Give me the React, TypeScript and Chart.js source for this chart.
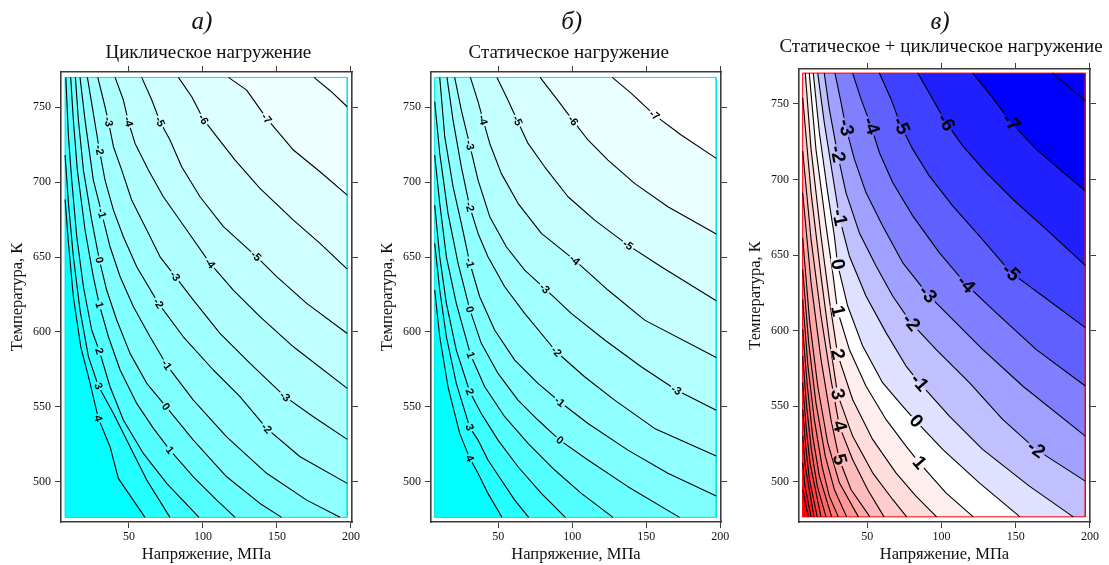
import React, { useEffect, useRef } from 'react';
import { Chart, registerables } from 'chart.js';

Chart.register(...registerables);

// ---------------- shared axis ticks ----------------
const X_TICKS = [50, 100, 150, 200];
const Y_TICKS = [500, 550, 600, 650, 700, 750];

// ---------------- panel а) cyclic loading ----------------
const LEVELS_A = [-8, -7, -6, -5, -4, -3, -2, -1, 0, 1, 2, 3, 4];
const LINES_A: number[][][] = [
  [[175, 770], [186, 761.1], [197.5, 750.4]],
  [[117.2, 770], [129.5, 761.5], [143.0, 742.6], [161.1, 721.5], [179.1, 707.0], [197.5, 691.4]],
  [[83.4, 770], [92.4, 757.1], [100.3, 742.0], [109.3, 730.4], [121.7, 714.8], [138.5, 695.9], [161.1, 674.7], [179.1, 659.2], [197.5, 642.0]],
  [[58.6, 770], [65.4, 754.9], [71.0, 740.4], [77.7, 728.2], [85.6, 710.3], [98.0, 690.3], [113.8, 670.3], [135.8, 650.7], [149.8, 636.9], [170.1, 619.1], [197.5, 599.0]],
  [[40.6, 770], [46.2, 754.9], [49.6, 740.4], [54.1, 725.9], [63.1, 708.1], [73.2, 690.3], [89.0, 668.1], [104.8, 645.8], [120.5, 628.0], [138.5, 610.2], [161.1, 590.1], [197.5, 562.3]],
  [[28.9, 770], [32.7, 754.9], [36.1, 740.4], [39.5, 723.7], [45.1, 708.1], [51.8, 688.1], [62.0, 668.1], [71.0, 650.2], [81.1, 637.3], [93.5, 621.3], [111.5, 599.0], [131.8, 579.0], [155.4, 556.8], [174.6, 543.4], [197.5, 528.3]],
  [[21.9, 770], [24.8, 752.6], [30.0, 721.5], [33.8, 701.4], [39.5, 681.4], [46.2, 663.6], [55.2, 643.6], [69.9, 619.1], [86.7, 596.8], [107.0, 574.6], [125.0, 556.8], [143.0, 535.6], [165.6, 516.7], [197.5, 498.9]],
  [[16.9, 770], [20.3, 741.5], [25.9, 701.4], [31.6, 679.2], [37.2, 656.9], [44.0, 636.9], [53.0, 616.9], [64.2, 596.8], [75.5, 577.9], [93.5, 554.5], [116.0, 530.0], [143.0, 505.6], [170.1, 487.7], [192.6, 476.2]],
  [[13.8, 770], [15.8, 741.5], [19.2, 708.1], [24.8, 674.7], [30.0, 648.0], [34.9, 628.0], [41.7, 608.0], [50.7, 585.7], [62.0, 565.7], [75.0, 550.1], [93.5, 527.8], [116.0, 503.3], [138.5, 485.5], [153.2, 476.2]],
  [[10.6, 770], [12.4, 741.5], [15.1, 708.1], [20.3, 668.1], [25.9, 636.9], [30.0, 618.0], [36.1, 596.8], [44.0, 574.6], [55.2, 552.3], [66.5, 535.6], [77.7, 521.1], [93.5, 503.3], [109.3, 487.7], [121.7, 476.2]],
  [[7.3, 770], [9.1, 730.4], [11.3, 701.4], [14.7, 663.6], [19.2, 630.2], [24.8, 601.3], [30.0, 587.2], [37.2, 563.4], [46.2, 541.2], [59.7, 518.9], [75.5, 498.9], [97.3, 476.2]],
  [[6.8, 718.1], [9.1, 685.9], [12.4, 650.2], [16.9, 614.6], [22.6, 583.5], [29.3, 563.9], [39.5, 545.6], [53.0, 518.9], [62.0, 501.1], [77.7, 476.2]],
  [[6.8, 688.5], [9.1, 659.2], [12.4, 623.5], [17.4, 590.1], [23.2, 567.9], [29.3, 542.3], [37.2, 523.4], [42.8, 502.2], [60.8, 476.2]],
];
const LABELS_A: number[][] = [
  [-7, 143.0, 742.6], [-6, 100.3, 742.0], [-5, 71.0, 740.4], [-4, 49.6, 740.4], [-3, 36.1, 740.4],
  [-2, 30.0, 721.5], [-1, 31.6, 679.2], [0, 30.0, 648.0], [1, 30.0, 618.0], [2, 30.0, 587.2],
  [3, 29.3, 563.9], [4, 29.3, 542.3], [-5, 135.8, 650.7], [-4, 104.8, 645.8], [-3, 81.1, 637.3],
  [-2, 69.9, 619.1], [-1, 75.5, 577.9], [0, 75.0, 550.1], [1, 77.7, 521.1], [-3, 155.4, 556.8], [-2, 143.0, 535.6],
];
const BANDS_A = ['#FAFFFF', '#EEFFFF', '#DEFFFF', '#D0FFFF', '#C0FFFF', '#B0FFFF', '#A0FFFF', '#90FFFF', '#80FFFF', '#6CFFFF', '#54FFFF', '#3CFFFF', '#24FFFF', '#00FFFF'];

// ---------------- panel б) static loading ----------------
const LEVELS_B = [-7, -6, -5, -4, -3, -2, -1, 0, 1, 2, 3, 4];
const LINES_B: number[][][] = [
  [[127.0, 770], [139.9, 759.3], [155.6, 744.8], [173.6, 731.5], [197.3, 715.9]],
  [[78.2, 770], [89.2, 756.0], [100.5, 741.1], [110.6, 728.2], [124.1, 714.8], [142.1, 699.2], [164.6, 683.6], [197.3, 665.4]],
  [[49.1, 770], [56.5, 754.9], [62.9, 741.1], [70.1, 725.9], [81.3, 710.3], [97.1, 690.3], [115.1, 674.7], [137.6, 658.0], [160.1, 643.6], [197.3, 620.9]],
  [[31.1, 770], [36.3, 753.8], [39.7, 741.5], [44.2, 725.9], [52.0, 705.9], [63.3, 685.9], [79.1, 665.8], [101.6, 648.0], [124.1, 628.0], [148.9, 607.9], [197.3, 583.0]],
  [[20.5, 770], [25.0, 748.2], [30.7, 724.8], [36.3, 701.4], [44.2, 677.0], [55.4, 656.9], [67.8, 641.3], [81.3, 629.1], [99.3, 612.4], [121.9, 594.6], [146.6, 576.8], [170.3, 561.2], [197.3, 547.8]],
  [[15.3, 770], [19.4, 741.5], [25.0, 710.3], [30.7, 683.6], [36.3, 665.8], [43.0, 650.2], [54.3, 630.2], [67.8, 612.4], [89.2, 586.8], [108.3, 570.1], [128.6, 554.5], [155.6, 535.6], [197.3, 517.1]],
  [[10.4, 770], [13.8, 730.4], [19.4, 697.0], [25.0, 672.5], [30.7, 646.2], [37.4, 623.5], [47.5, 601.3], [61.1, 581.2], [76.8, 565.7], [91.5, 553.4], [110.6, 538.9], [137.6, 521.1], [164.6, 505.6], [197.3, 490.4]],
  [[7.0, 753.8], [10.4, 719.3], [16.0, 679.2], [22.8, 645.8], [30.7, 615.1], [38.5, 592.4], [49.8, 572.3], [63.3, 554.5], [76.8, 541.2], [91.5, 527.8], [110.6, 514.5], [137.6, 496.7], [172.5, 476.2]],
  [[7.0, 718.1], [10.4, 685.9], [14.9, 650.2], [21.6, 619.1], [31.3, 584.6], [40.8, 563.4], [54.3, 543.4], [70.1, 525.6], [88.1, 507.8], [106.1, 492.2], [127.5, 476.2]],
  [[7.0, 684.7], [10.4, 650.2], [14.9, 619.1], [21.6, 587.9], [30.7, 560.1], [38.5, 545.6], [49.8, 527.8], [63.3, 510.0], [79.1, 492.2], [95.3, 476.2]],
  [[7.0, 659.2], [10.4, 628.0], [14.9, 596.8], [21.6, 565.7], [30.7, 536.3], [36.3, 527.8], [43.0, 514.5], [52.0, 501.1], [61.1, 487.7], [70.5, 476.2]],
  [[7.0, 628.0], [10.4, 596.8], [16.0, 563.4], [23.9, 532.3], [30.7, 515.6], [36.3, 505.6], [43.0, 492.2], [52.5, 476.2]],
];
const LABELS_B: number[][] = [
  [-7, 155.6, 744.8], [-6, 100.5, 741.1], [-5, 62.9, 741.1], [-4, 39.7, 741.5], [-3, 30.7, 724.8],
  [-2, 30.7, 683.6], [-1, 30.7, 646.2], [0, 30.7, 615.1], [1, 31.3, 584.6], [2, 30.7, 560.1],
  [3, 30.7, 536.3], [4, 30.7, 515.6], [-5, 137.6, 658.0], [-4, 101.6, 648.0], [-3, 81.3, 629.1],
  [-2, 89.2, 586.8], [-1, 91.5, 553.4], [0, 91.5, 527.8], [-3, 170.3, 561.2],
];
const BANDS_B = ['#FFFFFF', '#EAFFFF', '#D8FFFF', '#C6FFFF', '#B4FFFF', '#A2FFFF', '#90FFFF', '#80FFFF', '#6CFFFF', '#54FFFF', '#3CFFFF', '#24FFFF', '#00FFFF'];

// ---------------- panel в) static + cyclic loading ----------------
const LEVELS_C = [-8, -7, -6, -5, -4, -3, -2, -1, 0, 1, 2, 3, 4, 5, 6, 7, 8, 9, 10, 11, 12, 13, 14, 15];
const LINES_C: number[][][] = [
  [[174.9, 770.3], [186.1, 760.8], [196.9, 752.0]],
  [[121.0, 770.3], [133.3, 755.3], [146.8, 737.7], [163.7, 720.0], [179.4, 706.8], [196.9, 692.4]],
  [[84.0, 770.3], [94.0, 753.1], [103.0, 737.7], [114.3, 722.2], [130.0, 704.6], [148.0, 686.9], [170.4, 667.1], [196.9, 643.2]],
  [[58.1, 770.3], [66.0, 753.1], [72.7, 735.4], [80.6, 720.0], [91.8, 702.3], [107.5, 682.5], [125.5, 662.6], [146.8, 638.4], [168.2, 622.9], [196.9, 602.0]],
  [[40.1, 770.3], [45.8, 753.1], [52.5, 735.4], [58.1, 717.8], [67.1, 698.0], [80.6, 675.9], [98.5, 651.6], [116.5, 630.7], [136.7, 611.9], [163.7, 587.6], [196.9, 563.4]],
  [[28.2, 770.3], [32.3, 750.9], [35.6, 734.3], [41.3, 713.4], [49.1, 691.3], [60.3, 669.3], [73.8, 645.0], [90.7, 624.0], [107.5, 607.5], [127.7, 587.6], [154.7, 563.4], [196.9, 530.3]],
  [[21.0, 770.3], [24.4, 746.5], [30.0, 716.7], [35.6, 691.3], [44.6, 664.8], [55.9, 642.8], [67.1, 622.9], [79.4, 605.3], [96.3, 587.6], [118.8, 565.6], [141.2, 541.3], [163.7, 521.5], [196.9, 500.5]],
  [[16.6, 770.3], [21.0, 737.7], [26.7, 702.4], [31.2, 674.8], [37.9, 649.4], [49.1, 622.9], [62.6, 598.7], [76.1, 576.6], [85.1, 565.6], [105.3, 543.5], [127.7, 521.5], [159.2, 497.2], [188.8, 476.9]],
  [[13.6, 770.3], [17.7, 731.0], [23.3, 691.3], [27.8, 662.6], [30.0, 643.9], [36.8, 616.3], [46.9, 589.8], [60.3, 565.6], [73.8, 550.1], [82.8, 540.2], [100.8, 521.5], [125.5, 499.4], [152.9, 476.9]],
  [[10.9, 770.3], [15.4, 720.0], [22.2, 669.3], [26.7, 638.4], [30.0, 613.0], [37.9, 587.6], [49.1, 563.4], [62.6, 541.3], [76.1, 523.7], [85.1, 512.6], [103.0, 492.8], [121.4, 476.9]],
  [[8.2, 770.3], [12.1, 720.0], [18.8, 662.6], [24.4, 620.7], [30.0, 584.3], [40.1, 554.5], [53.6, 528.1], [69.3, 506.0], [82.8, 490.6], [96.7, 476.9]],
  [[6.45, 754.2], [12.1, 691.3], [18.8, 636.2], [24.4, 594.2], [30.0, 557.9], [40.1, 530.3], [53.6, 506.0], [67.1, 488.4], [76.5, 476.9]],
  [[6.45, 718.9], [12.1, 660.4], [18.8, 609.7], [25.5, 567.8], [31.2, 536.9], [40.1, 514.8], [50.2, 495.0], [61.3, 476.9]],
  [[6.45, 691.3], [12.1, 631.8], [18.8, 581.0], [25.5, 541.3], [31.2, 514.8], [39.0, 495.0], [51.8, 476.9]],
  [[6.45, 661.5], [11.0, 607.5], [16.6, 563.4], [23.3, 525.9], [31.2, 499.4], [44.0, 476.9]],
  [[6.45, 640.6], [10.5, 592.1], [15.4, 552.3], [21.7, 517.1], [27.8, 495.0], [36.1, 476.9]],
  [[6.45, 620.7], [10.0, 576.6], [14.3, 541.3], [19.5, 510.4], [24.4, 490.6], [30.5, 476.9]],
  [[6.45, 600.9], [9.6, 563.4], [13.2, 530.3], [17.7, 503.8], [26.0, 476.9]],
  [[6.45, 583.2], [9.1, 550.1], [12.3, 521.5], [16.3, 497.2], [22.2, 476.9]],
  [[6.45, 565.6], [8.7, 536.9], [11.4, 512.6], [18.8, 476.9]],
  [[6.45, 547.9], [8.5, 523.7], [11.0, 501.6], [16.3, 476.9]],
  [[6.45, 530.3], [8.2, 510.4], [14.1, 476.9]],
  [[6.45, 512.6], [8.0, 497.2], [12.1, 476.9]],
  [[6.45, 495.0], [10.3, 476.9]],
];
const LABELS_C: number[][] = [
  [-7, 146.8, 737.7], [-6, 103.0, 737.7], [-5, 72.7, 735.4], [-4, 52.5, 735.4], [-3, 35.6, 734.3],
  [-2, 30.0, 716.7], [-1, 31.2, 674.8], [0, 30.0, 643.9], [1, 30.0, 613.0], [2, 30.0, 584.3],
  [3, 30.0, 557.9], [4, 31.2, 536.9], [5, 31.2, 514.8], [-5, 146.8, 638.4], [-4, 116.5, 630.7],
  [-3, 90.7, 624.0], [-2, 79.4, 605.3], [-1, 85.1, 565.6], [0, 82.8, 540.2], [1, 85.1, 512.6], [-2, 163.7, 521.5],
];
const BANDS_C = [
  '#0000FF', '#0000FF', '#2020FF', '#4040FF', '#6060FF', '#8080FF', '#A0A0FF', '#C0C0FF', '#E0E0FF',
  '#FFFFFF', '#FFEEEE', '#FFDDDD', '#FFCCCC', '#FFBBBB', '#FFAAAA', '#FF9999', '#FF8888', '#FF7777',
  '#FF6666', '#FF5555', '#FF4444', '#FF3333', '#FF2222', '#FF1111', '#FF0000',
];

// ---------------- styles ----------------
const SERIF = "'Liberation Serif', 'Times New Roman', serif";
const SANS = "'Liberation Sans', Arial, sans-serif";
const FRAME = '#3c3c3c';
const X_TITLE = 'Напряжение, МПа';
const Y_TITLE = 'Температура, К';

type Panel = {
  key: string;
  left: number;
  width: number;
  yW: number;
  y2W: number;
  x2H: number;
  axisX: number[];
  axisY: number[];
  dataX: number[];
  dataY: number[];
  levels: number[];
  lines: number[][][];
  labels: number[][];
  bands: string[];
  edge: string;
  labelFont: string;
  gapH: number;
};

const PANELS: Panel[] = [
  {
    key: 'a', left: 0, width: 370, yW: 61, y2W: 18, x2H: 72,
    axisX: [4.05, 200.7], axisY: [473.1, 773.6], dataX: [6.8, 197.5], dataY: [476.2, 770],
    levels: LEVELS_A, lines: LINES_A, labels: LABELS_A, bands: BANDS_A, edge: '#00E5E5',
    labelFont: `bold 11px ${SANS}`, gapH: 7,
  },
  {
    key: 'b', left: 370, width: 370, yW: 61, y2W: 19, x2H: 72,
    axisX: [4.5, 200.5], axisY: [473.1, 773.6], dataX: [7.0, 197.3], dataY: [476.2, 770],
    levels: LEVELS_B, lines: LINES_B, labels: LABELS_B, bands: BANDS_B, edge: '#00E5E5',
    labelFont: `bold 11px ${SANS}`, gapH: 7,
  },
  {
    key: 'c', left: 738, width: 371, yW: 61, y2W: 19, x2H: 69,
    axisX: [3.98, 200.07], axisY: [473.5, 773.0], dataX: [6.45, 196.9], dataY: [476.9, 770.3],
    levels: LEVELS_C, lines: LINES_C, labels: LABELS_C, bands: BANDS_C, edge: '#FF0000',
    labelFont: `bold 19px ${SANS}`, gapH: 12,
  },
];

const TITLES = [
  { text: 'а)', cx: 202, top: 7.6, size: 25, italic: true },
  { text: 'Циклическое нагружение', cx: 208.4, top: 41.8, size: 19, italic: false },
  { text: 'б)', cx: 571.7, top: 7.6, size: 25, italic: true },
  { text: 'Статическое нагружение', cx: 568.7, top: 41.8, size: 19, italic: false },
  { text: 'в)', cx: 940, top: 7.6, size: 25, italic: true },
  { text: 'Статическое + циклическое нагружение', cx: 941, top: 36.4, size: 19, italic: false },
];

function regionPolygon(pts: number[][], dx: number[], dy: number[]): number[][] {
  const [x0, x1] = dx;
  const [y0, y1] = dy;
  const first = pts[0];
  const last = pts[pts.length - 1];
  const poly = pts.slice();
  if (Math.abs(last[0] - x1) < 0.6) poly.push([x1, y0]);
  poly.push([x0, y0]);
  if (Math.abs(first[1] - y1) < 0.6) poly.push([x0, y1]);
  return poly;
}

const toXY = (pts: number[][]) => pts.map(([x, y]) => ({ x, y }));

function axis(position: string, range: number[], ticks: number[], size: number, showLabels: boolean, title: string | null) {
  const horizontal = position === 'top' || position === 'bottom';
  return {
    type: 'linear',
    position,
    min: range[0],
    max: range[1],
    afterBuildTicks: (s: any) => {
      s.ticks = ticks.map((v) => ({ value: v }));
    },
    afterFit: (s: any) => {
      if (horizontal) s.height = size;
      else s.width = size;
    },
    grid: { drawOnChartArea: false, drawTicks: true, tickLength: 6, tickColor: FRAME, tickWidth: 1, color: FRAME, lineWidth: 1 },
    border: { display: true, color: FRAME, width: 1.6 },
    ticks: {
      display: showLabels,
      autoSkip: false,
      maxRotation: 0,
      minRotation: 0,
      padding: horizontal ? 1.5 : 4,
      color: '#111',
      font: { family: SERIF, size: 12 },
      callback: (v: any) => String(v),
    },
    title: title
      ? {
          display: true,
          text: title,
          color: '#111',
          font: { family: SERIF, size: 16.5, lineHeight: 1 },
          padding: horizontal ? { top: 0, bottom: 2.3 } : { top: 9.5, bottom: 0 },
        }
      : { display: false },
  };
}

function buildConfig(p: Panel): any {
  const [x0, x1] = p.dataX;
  const [y0, y1] = p.dataY;
  const rect = [[x0, y1], [x1, y1], [x1, y0], [x0, y0]];
  const base = { showLine: true, pointRadius: 0, pointHoverRadius: 0, tension: 0 };
  const datasets: any[] = [];
  datasets.push({ ...base, data: toXY(rect), fill: 'shape', backgroundColor: p.bands[0], borderColor: 'transparent', borderWidth: 0, order: 3000 });
  p.lines.forEach((pts, i) => {
    datasets.push({
      ...base,
      data: toXY(regionPolygon(pts, p.dataX, p.dataY)),
      fill: 'shape',
      backgroundColor: p.bands[i + 1],
      borderColor: 'transparent',
      borderWidth: 0,
      order: 2000 - i,
    });
  });
  datasets.push({ ...base, data: toXY([...rect, rect[0]]), fill: false, borderColor: p.edge, borderWidth: 1, order: 1 });
  p.lines.forEach((pts) => {
    datasets.push({ ...base, data: toXY(pts), fill: false, borderColor: '#000', borderWidth: 1.1, borderJoinStyle: 'round', order: 0 });
  });

  const labelPlugin = {
    id: 'contourLabels_' + p.key,
    afterDatasetsDraw(chart: any) {
      const { ctx } = chart;
      const xs = chart.scales.x;
      const ys = chart.scales.y;
      ctx.save();
      ctx.font = p.labelFont;
      ctx.textAlign = 'center';
      ctx.textBaseline = 'middle';
      for (const [lev, lx, ly] of p.labels) {
        const idx = p.levels.indexOf(lev);
        if (idx < 0) continue;
        const pts = p.lines[idx].map(([x, y]) => [xs.getPixelForValue(x), ys.getPixelForValue(y)]);
        const px = xs.getPixelForValue(lx);
        const py = ys.getPixelForValue(ly);
        let best = Infinity;
        let qx = px;
        let qy = py;
        let bk = 0;
        let bt = 0;
        for (let k = 0; k < pts.length - 1; k++) {
          const [ax, ay] = pts[k];
          const [bx, by] = pts[k + 1];
          const dx = bx - ax;
          const dy = by - ay;
          const len2 = dx * dx + dy * dy || 1;
          let t = ((px - ax) * dx + (py - ay) * dy) / len2;
          t = Math.max(0, Math.min(1, t));
          const cx = ax + t * dx;
          const cy = ay + t * dy;
          const d = (cx - px) ** 2 + (cy - py) ** 2;
          if (d < best) {
            best = d;
            qx = cx;
            qy = cy;
            bk = k;
            bt = t;
          }
        }
        let a0 = pts[bk];
        let a1 = pts[bk + 1];
        if (bt < 0.5 && bk > 0) a0 = pts[bk - 1];
        else if (bt >= 0.5 && bk + 2 < pts.length) a1 = pts[bk + 2];
        let ang = Math.atan2(a1[1] - a0[1], a1[0] - a0[0]);
        if (ang > Math.PI / 2) ang -= Math.PI;
        if (ang < -Math.PI / 2) ang += Math.PI;
        const text = String(lev);
        const w = ctx.measureText(text).width + 3;
        const h = p.gapH;
        ctx.save();
        ctx.translate(qx, qy);
        ctx.rotate(ang);
        ctx.fillStyle = p.bands[idx];
        ctx.fillRect(-w / 2, -h / 2, w, h / 2 + 0.5);
        ctx.fillStyle = p.bands[idx + 1];
        ctx.fillRect(-w / 2, 0, w, h / 2);
        ctx.fillStyle = '#000';
        ctx.fillText(text, 0, 0.5);
        ctx.restore();
      }
      ctx.restore();
    },
  };

  return {
    type: 'scatter',
    data: { datasets },
    options: {
      responsive: false,
      animation: false,
      events: [],
      layout: { padding: 0 },
      plugins: { legend: { display: false }, tooltip: { enabled: false }, title: { display: false } },
      scales: {
        x: axis('bottom', p.axisX, X_TICKS, 43, true, X_TITLE),
        x2: axis('top', p.axisX, X_TICKS, p.x2H, false, null),
        y: axis('left', p.axisY, Y_TICKS, p.yW, true, Y_TITLE),
        y2: axis('right', p.axisY, Y_TICKS, p.y2W, false, null),
      },
    },
    plugins: [labelPlugin],
  };
}

function PanelChart({ p }: { p: Panel }) {
  const ref = useRef<HTMLCanvasElement>(null);
  useEffect(() => {
    const canvas = ref.current;
    if (!canvas) return;
    const chart = new Chart(canvas, buildConfig(p));
    return () => chart.destroy();
  }, [p]);
  return (
    <canvas
      ref={ref}
      width={p.width}
      height={565}
      style={{ position: 'absolute', left: p.left, top: 0, width: p.width, height: 565 }}
    />
  );
}

export default function App() {
  return (
    <div style={{ position: 'fixed', left: 0, top: 0, width: 1109, height: 565, background: '#fff', overflow: 'hidden' }}>
      {PANELS.map((p) => (
        <PanelChart key={p.key} p={p} />
      ))}
      {TITLES.map((t, i) => (
        <div
          key={i}
          style={{
            position: 'absolute',
            left: t.cx - 250,
            width: 500,
            top: t.top,
            textAlign: 'center',
            fontFamily: SERIF,
            fontSize: t.size,
            lineHeight: `${t.size}px`,
            fontStyle: t.italic ? 'italic' : 'normal',
            color: '#111',
            whiteSpace: 'nowrap',
            pointerEvents: 'none',
          }}
        >
          {t.text}
        </div>
      ))}
    </div>
  );
}
